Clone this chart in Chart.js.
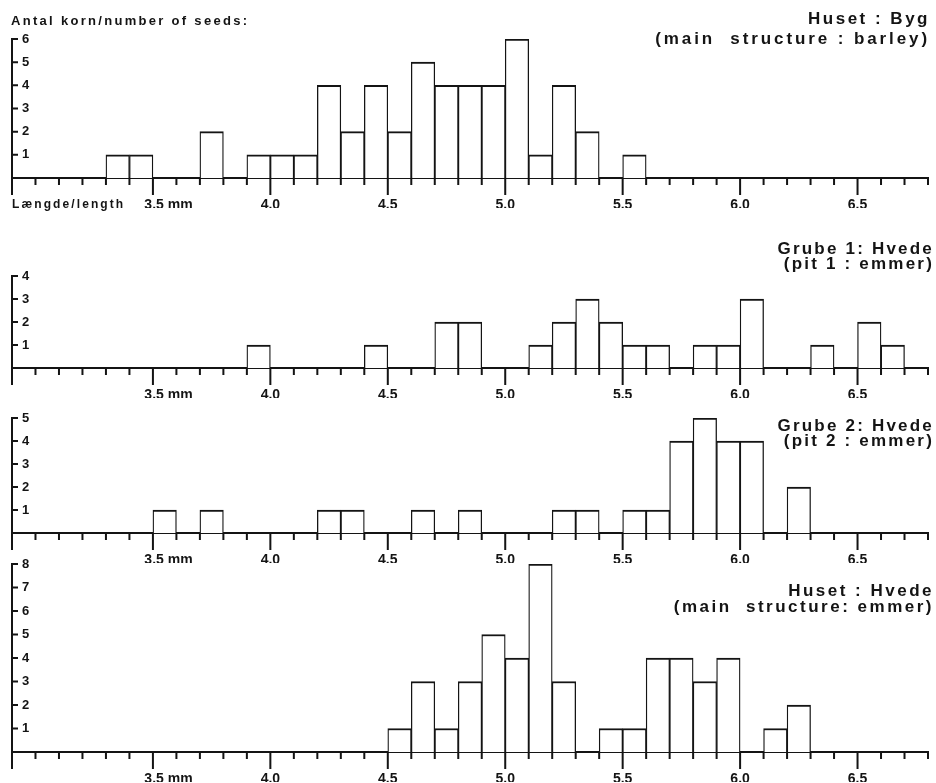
<!DOCTYPE html>
<html>
<head>
<meta charset="utf-8">
<title>Antal korn / number of seeds</title>
<script src="https://cdn.jsdelivr.net/npm/chart.js@4.4.1/dist/chart.umd.min.js"></script>
<style>
  body { margin: 0; background: #fff; }
  #page { position: relative; width: 936px; height: 783px; overflow: hidden;
          font-family: "Liberation Sans", Arial, sans-serif; font-weight: bold; color: #141414; }
  canvas { position: absolute; left: 0; }
  .label { position: absolute; white-space: pre; }
  .title { position: absolute; text-align: right; font-size: 17px; letter-spacing: 2.5px; white-space: pre; }
</style>
</head>
<body>
<div id="page">
  <canvas id="chartByg" width="936" height="197" style="top:19px"></canvas>
  <canvas id="chartGrube1" width="936" height="150" style="top:256px"></canvas>
  <canvas id="chartGrube2" width="936" height="173" style="top:398px"></canvas>
  <canvas id="chartHvede" width="936" height="246" style="top:544px"></canvas>

  <div class="label" style="left:11px;top:13px;font-size:13px;line-height:15px;letter-spacing:2.3px">Antal korn/number of seeds:</div>
  <div class="label" style="left:12px;top:197px;font-size:12px;line-height:14px;letter-spacing:2.1px">Længde/length</div>

  <div class="title" style="right:6px;top:9px;line-height:20px">Huset : Byg</div>
  <div class="title" style="right:6px;top:29px;line-height:20px;letter-spacing:2.9px">(main  structure : barley)</div>
  <div class="title" style="right:2px;top:242px;line-height:14.5px;letter-spacing:2.2px">Grube 1: Hvede<br>(pit 1 : emmer)</div>
  <div class="title" style="right:2px;top:418px;line-height:15px;letter-spacing:2.2px">Grube 2: Hvede<br>(pit 2 : emmer)</div>
  <div class="title" style="right:2px;top:583px;line-height:15.5px">Huset : Hvede<br>(main  structure: emmer)</div>
</div>

<script>
const ink = '#141414';

// length axis (mm), one bin = 0.1 mm
const xMin = 2.9;
const xMax = 6.8;
const tickLabels = [3.5, 4.0, 4.5, 5.0, 5.5, 6.0, 6.5];

// Huset: Byg (main structure: barley) - bin start and count
const bygBins   = [3.3, 3.4, 3.7, 3.9, 4.0, 4.1, 4.2, 4.3, 4.4, 4.5, 4.6, 4.7, 4.8, 4.9, 5.0, 5.1, 5.2, 5.3, 5.5];
const bygCounts = [1,   1,   2,   1,   1,   1,   4,   2,   4,   2,   5,   4,   4,   4,   6,   1,   4,   2,   1];

// Grube 1: Hvede (pit 1: emmer)
const grube1Bins   = [3.9, 4.4, 4.7, 4.8, 5.1, 5.2, 5.3, 5.4, 5.5, 5.6, 5.8, 5.9, 6.0, 6.3, 6.5, 6.6];
const grube1Counts = [1,   1,   2,   2,   1,   2,   3,   2,   1,   1,   1,   1,   3,   1,   2,   1];

// Grube 2: Hvede (pit 2: emmer)
const grube2Bins   = [3.5, 3.7, 4.2, 4.3, 4.6, 4.8, 5.2, 5.3, 5.5, 5.6, 5.7, 5.8, 5.9, 6.0, 6.2];
const grube2Counts = [1,   1,   1,   1,   1,   1,   1,   1,   1,   1,   4,   5,   4,   4,   2];

// Huset: Hvede (main structure: emmer)
const hvedeBins   = [4.5, 4.6, 4.7, 4.8, 4.9, 5.0, 5.1, 5.2, 5.4, 5.5, 5.6, 5.7, 5.8, 5.9, 6.1, 6.2];
const hvedeCounts = [1,   3,   1,   3,   5,   4,   8,   3,   1,   1,   4,   4,   3,   4,   1,   2];

Chart.defaults.font.family = '"Liberation Sans", Arial, sans-serif';

// short/long tick marks under the length axis, inward ticks on the count axis
const tickMarks = {
    id: 'tickMarks',
    afterDraw(chart) {
        const { ctx, chartArea, scales: { x, y } } = chart;
        const base = chartArea.bottom;
        ctx.save();
        ctx.strokeStyle = ink;
        ctx.lineWidth = 2;
        ctx.beginPath();
        x.ticks.forEach((t, i) => {
            const px = x.getPixelForTick(i);
            const major = i === 0 || tickLabels.some(v => Math.abs(v - t.value) < 1e-6);
            ctx.moveTo(px, base);
            ctx.lineTo(px, base + (major ? 17 : 7));
        });
        y.ticks.forEach((t, i) => {
            if (t.value === 0) return;
            const py = y.getPixelForTick(i);
            ctx.moveTo(chartArea.left, py);
            ctx.lineTo(chartArea.left + 6, py);
        });
        ctx.stroke();
        ctx.restore();
    }
};

function makeChart(id, bins, counts, yMax) {
    new Chart(document.getElementById(id), {
        type: 'bar',
        data: {
            datasets: [{
                data: bins.map((b, i) => ({ x: b + 0.05, y: counts[i] })),
                backgroundColor: '#ffffff',
                borderColor: ink,
                borderWidth: { top: 2, left: 1.3, right: 1.3, bottom: 0 },
                barPercentage: 1,
                categoryPercentage: 1
            }]
        },
        options: {
            responsive: false,
            animation: false,
            layout: { padding: { top: 20, bottom: 8, left: 12, right: 8 } },
            plugins: {
                legend: { display: false },
                tooltip: { enabled: false }
            },
            scales: {
                x: {
                    type: 'linear',
                    min: xMin,
                    max: xMax,
                    offset: false,
                    // marks come from the tickMarks plugin; tickLength only spaces the labels
                    grid: { display: false, drawTicks: true, tickLength: 19 },
                    border: { display: true, color: ink, width: 2 },
                    ticks: {
                        stepSize: 0.1,
                        autoSkip: false,
                        maxRotation: 0,
                        padding: 0,
                        color: ink,
                        font: { size: 14, weight: 'bold' },
                        callback: v => {
                            const hit = tickLabels.find(t => Math.abs(t - v) < 1e-6);
                            if (hit === undefined) return '';
                            return hit === 3.5 ? '        3.5 mm' : hit.toFixed(1);
                        }
                    },
                    afterFit: s => { s.height = 30; }
                },
                y: {
                    min: 0,
                    max: yMax,
                    grid: { display: false, drawTicks: false },
                    border: { display: true, color: ink, width: 2 },
                    ticks: {
                        stepSize: 1,
                        mirror: true,
                        padding: 10,
                        color: ink,
                        font: { size: 13, weight: 'bold' },
                        callback: v => (v === 0 ? '' : v)
                    },
                    afterFit: s => { s.width = 0; }
                }
            }
        },
        plugins: [tickMarks]
    });
}

document.addEventListener('DOMContentLoaded', () => {
    makeChart('chartByg', bygBins, bygCounts, 6);
    makeChart('chartGrube1', grube1Bins, grube1Counts, 4);
    makeChart('chartGrube2', grube2Bins, grube2Counts, 5);
    makeChart('chartHvede', hvedeBins, hvedeCounts, 8);
});
</script>
</body>
</html>
